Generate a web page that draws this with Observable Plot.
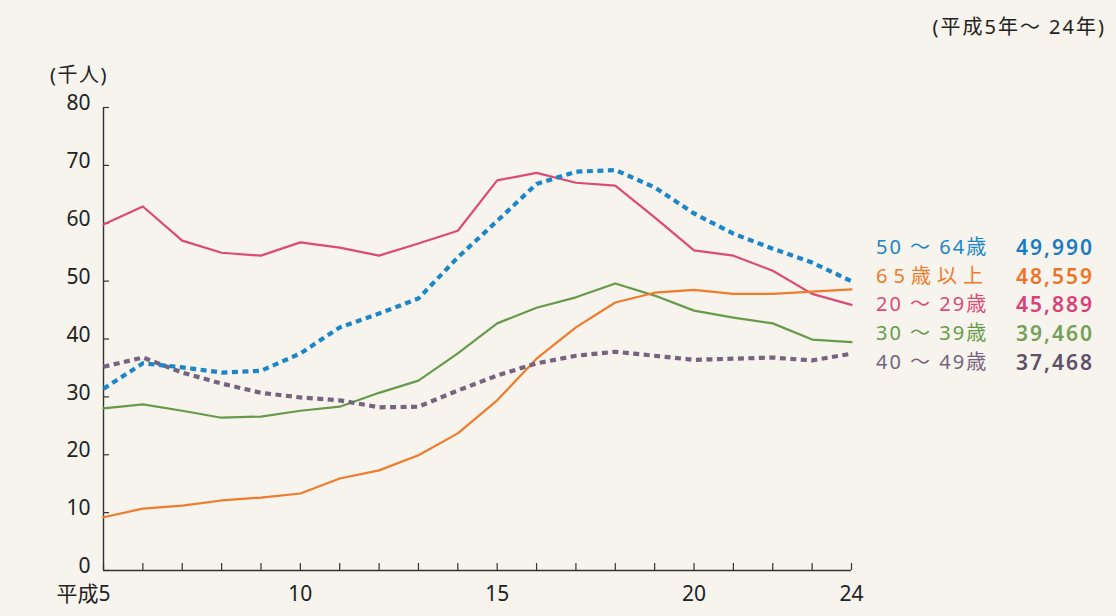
<!DOCTYPE html>
<html lang="ja">
<head>
<meta charset="utf-8">
<script src="https://cdn.jsdelivr.net/npm/d3@7"></script>
<script src="https://cdn.jsdelivr.net/npm/@observablehq/plot@0.6"></script>
<style>
  html, body { margin: 0; padding: 0; background: #f6f4ec; }
  #chart {
    position: relative; width: 1116px; height: 616px; overflow: hidden;
    font-family: "Noto Sans", "Noto Sans CJK JP", sans-serif; color: #222;
  }
  #chart svg { position: absolute; left: 0; top: 0; }
  .period { position: absolute; right: 10px; top: 14px; font-size: 20px; line-height: 26px; letter-spacing: 2px; }
  .unit { position: absolute; left: 50px; top: 62px; font-size: 20px; line-height: 26px; letter-spacing: 1.5px; }
  .legend { position: absolute; left: 876px; top: 233px; line-height: 28.7px; }
  .legend .row { display: flex; white-space: nowrap; height: 28.7px; }
  .legend .name { display: inline-block; width: 136px; height: 28.7px; font-size: 20px; letter-spacing: 2px; }
  .legend .name.wide { letter-spacing: 6px; }
  .legend .val { display: inline-block; width: 82px; height: 28.7px; text-align: right; font-weight: 600; font-size: 21px; letter-spacing: 2px; }
</style>
</head>
<body>
<div id="chart"></div>
<script>
// 年（平成）
const years = [5, 6, 7, 8, 9, 10, 11, 12, 13, 14, 15, 16, 17, 18, 19, 20, 21, 22, 23, 24];
const yTicks = [0, 10, 20, 30, 40, 50, 60, 70, 80];
const xLabels = [10, 15, 20, 24];

// 年齢階級別の人数（千人）
const age50to64 = [31.4, 35.8, 35.1, 34.2, 34.5, 37.5, 42.0, 44.4, 47.0, 54.1, 60.4, 66.8, 68.9, 69.2, 66.2, 61.7, 58.2, 55.6, 53.2, 49.990];
const age65plus = [9.2, 10.7, 11.2, 12.1, 12.6, 13.3, 15.9, 17.3, 19.9, 23.7, 29.4, 36.6, 42.0, 46.3, 48.0, 48.5, 47.8, 47.8, 48.2, 48.559];
const age20to29 = [59.8, 62.9, 57.0, 54.9, 54.4, 56.7, 55.8, 54.4, 56.5, 58.7, 67.4, 68.7, 67.0, 66.5, 61.0, 55.3, 54.4, 51.8, 47.8, 45.889];
const age30to39 = [28.0, 28.7, 27.6, 26.4, 26.6, 27.6, 28.3, 30.7, 32.8, 37.5, 42.7, 45.4, 47.2, 49.6, 47.5, 44.9, 43.7, 42.7, 39.9, 39.460];
const age40to49 = [35.2, 36.8, 34.2, 32.3, 30.7, 29.9, 29.4, 28.2, 28.3, 31.1, 33.7, 35.8, 37.1, 37.8, 37.1, 36.4, 36.6, 36.8, 36.3, 37.468];

// 凡例の順序と色
const names = ["50～64歳", "65歳以上", "20～29歳", "30～39歳", "40～49歳"];
const seriesValues = [age50to64, age65plus, age20to29, age30to39, age40to49];
const lineColors = ["#1d86c8", "#f07b2c", "#dc4a78", "#679a4b", "#76637f"];
const textColors = ["#1a7cc0", "#ec7428", "#d9407a", "#76a05a", "#5e4f6a"];
const dashed = [true, false, false, false, true];

const W = 1116, H = 616;
const mL = 103, mR = 265, mT = 107, mB = 46;
const innerW = W - mL - mR, innerH = H - mT - mB;

function lineMark(i) {
  const data = years.map((yr, j) => ({year: yr, value: seriesValues[i][j]}));
  return dashed[i]
    ? Plot.line(data, {x: "year", y: "value", stroke: lineColors[i], strokeWidth: 4.2, strokeDasharray: "6,4.5", strokeLinecap: "butt", strokeLinejoin: "round"})
    : Plot.line(data, {x: "year", y: "value", stroke: lineColors[i], strokeWidth: 2.2, strokeLinejoin: "round"});
}

// 描画順: 実線を先に、破線を上に
const drawOrder = [2, 3, 1, 4, 0];

const plot = Plot.plot({
  width: W, height: H,
  marginLeft: mL, marginRight: mR, marginTop: mT, marginBottom: mB,
  style: {background: "transparent", fontFamily: "\"Noto Sans\", \"Noto Sans CJK JP\", sans-serif", fontSize: "21px", color: "#222", overflow: "visible"},
  x: {domain: [5, 24], axis: null},
  y: {domain: [0, 80], axis: null},
  marks: [
    // 軸線
    Plot.ruleY([0], {stroke: "#333", strokeWidth: 1.4}),
    Plot.ruleX([5], {stroke: "#333", strokeWidth: 1.4}),
    // 目盛り（内向き）
    Plot.tickX(years, {x: d => d, stroke: "#333", strokeWidth: 1.2, insetTop: innerH - 7}),
    Plot.tickY(yTicks, {y: d => d, stroke: "#333", strokeWidth: 1.2, insetRight: innerW - 6}),
    // 目盛りラベル
    Plot.text(yTicks, {x: 5, y: d => d, text: d => String(d), textAnchor: "end", dx: -13, dy: -4, fill: "#222"}),
    Plot.text(xLabels, {x: d => d, y: 0, text: d => String(d), dy: 24, fill: "#222"}),
    Plot.text([5], {x: d => d, y: 0, text: d => "平成" + d, textAnchor: "end", dx: 7, dy: 24, fill: "#222"}),
    // 折れ線
    ...drawOrder.map(lineMark)
  ]
});

const chart = document.getElementById("chart");
chart.appendChild(plot);

const period = document.createElement("div");
period.className = "period";
period.textContent = "(平成5年～ 24年)";
chart.appendChild(period);

const unit = document.createElement("div");
unit.className = "unit";
unit.textContent = "(千人)";
chart.appendChild(unit);

const legend = document.createElement("div");
legend.className = "legend";
const fmt = d3.format(",");
names.forEach((n, i) => {
  const row = document.createElement("div");
  row.className = "row";
  const a = document.createElement("span");
  a.className = n.includes("～") ? "name" : "name wide";
  a.style.color = lineColors[i];
  a.textContent = n.replace("～", " ～ ");
  const b = document.createElement("span");
  b.className = "val";
  b.style.color = textColors[i];
  b.textContent = fmt(Math.round(seriesValues[i][seriesValues[i].length - 1] * 1000));
  row.appendChild(a);
  row.appendChild(b);
  legend.appendChild(row);
});
chart.appendChild(legend);
</script>
</body>
</html>
